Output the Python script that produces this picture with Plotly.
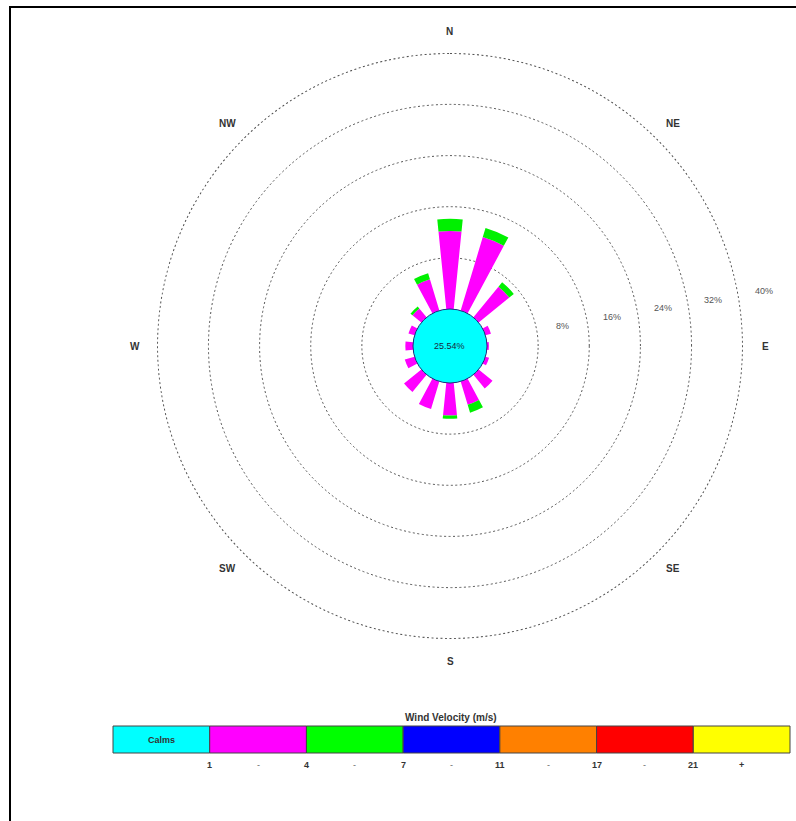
import math
import plotly.graph_objects as go

# ---- data -------------------------------------------------------------
directions = ["N", "NNE", "NE", "ENE", "E", "ESE", "SE", "SSE",
              "S", "SSW", "SW", "WSW", "W", "WNW", "NW", "NNW"]
theta_deg = [0, 22.5, 45, 67.5, 90, 112.5, 135, 157.5,
             180, 202.5, 225, 247.5, 270, 292.5, 315, 337.5]
freq_1_4 = [12.2, 12.0, 6.2, 0.9, 0.3, 0.6, 2.8, 3.8,
            5.1, 4.5, 3.5, 1.6, 1.2, 1.0, 1.8, 5.1]
freq_4_7 = [1.9, 1.5, 0.9, 0.0, 0.0, 0.0, 0.0, 1.3,
            0.5, 0.0, 0.0, 0.0, 0.0, 0.0, 0.4, 1.0]
calms_pct = 25.54
ring_ticks = [8, 16, 24, 32, 40]
compass_labels = ["N", "NE", "E", "SE", "S", "SW", "W", "NW"]
compass_angles = [0, 45, 90, 135, 180, 225, 270, 315]
legend_names = ["Calms", "", "", "", "", "", ""]
legend_colors = ["#00FFFF", "#FF00FF", "#00FF00", "#0000FF", "#FF8000", "#FF0000", "#FFFF00"]
legend_breaks = ["1", "4", "7", "11", "17", "21"]

# ---- geometry ---------------------------------------------------------
W, H = 796, 821
CX, CY = 450, 346          # rose centre in pixels
R_OUT = 293                # outer ring radius (40 %)
R_HOLE = 37                # calm circle radius
R_MAX = 40
R_AXIS = 40.05             # small headroom above the outer ring
GRID_COLOR = "#555555"
GRID_DASH = "2px,2.5px"

def px_to_paper(x, y):
    return x / W, 1 - y / H

def polar_px(r_pct, ang, extra=0.0):
    rp = R_HOLE + r_pct / R_MAX * (R_OUT - R_HOLE) + extra
    a = math.radians(ang)
    return CX + rp * math.sin(a), CY - rp * math.cos(a)

def label(x, y, text, size=9, color="#333333"):
    xp, yp = px_to_paper(x, y)
    return dict(x=xp, y=yp, xref="paper", yref="paper", text=text, showarrow=False,
                xanchor="center", yanchor="middle",
                font=dict(size=size, color=color, family="Liberation Sans"))

dom_x = [(CX - R_OUT) / W, (CX + R_OUT) / W]
dom_y = [1 - (CY + R_OUT) / H, 1 - (CY - R_OUT) / H]

fig = go.Figure()

# outermost (40 %) ring: the polar grid skips the edge, so trace it explicitly
ring_theta = list(range(0, 361))
fig.add_trace(go.Scatterpolar(r=[R_MAX] * len(ring_theta), theta=ring_theta, mode="lines",
                              line=dict(color=GRID_COLOR, width=1.4, dash=GRID_DASH),
                              hoverinfo="skip", cliponaxis=False, name="ring"))

fig.add_trace(go.Barpolar(r=freq_1_4, theta=theta_deg, width=11.5,
                          marker=dict(color="#FF00FF", line=dict(width=0)),
                          name="1 - 4"))
fig.add_trace(go.Barpolar(r=freq_4_7, theta=theta_deg, width=11.5,
                          marker=dict(color="#00F000", line=dict(width=0)),
                          name="4 - 7"))

shapes = []
annotations = []

# calm circle filling the hole
x0, y0 = px_to_paper(CX - R_HOLE, CY + R_HOLE)
x1, y1 = px_to_paper(CX + R_HOLE, CY - R_HOLE)
shapes.append(dict(type="circle", xref="paper", yref="paper", x0=x0, y0=y0, x1=x1, y1=y1,
                   fillcolor="#00FFFF", line=dict(color="#1a2a7a", width=1), layer="above"))
annotations.append(label(CX, CY, f"{calms_pct:.2f}%", size=9, color="#1a2a40"))

# ring percentage labels
for t in ring_ticks:
    x, y = polar_px(t + 4, 80)
    annotations.append(label(x, y, f"{t}%", size=9, color="#555555"))

# compass labels
for lab, ang in zip(compass_labels, compass_angles):
    x, y = polar_px(R_MAX, ang, extra=22)
    annotations.append(label(x, y, f"<b>{lab}</b>", size=10))

# velocity legend bar
LX0, LX1, LY0, LY1 = 113, 790, 726, 753
seg = (LX1 - LX0) / len(legend_colors)
for i, c in enumerate(legend_colors):
    a0, b0 = px_to_paper(LX0 + i * seg, LY1)
    a1, b1 = px_to_paper(LX0 + (i + 1) * seg, LY0)
    shapes.append(dict(type="rect", xref="paper", yref="paper", x0=a0, y0=b0, x1=a1, y1=b1,
                       fillcolor=c, line=dict(color="#444444", width=1)))
    if legend_names[i]:
        annotations.append(label(LX0 + (i + 0.5) * seg, (LY0 + LY1) / 2,
                                 f"<b>{legend_names[i]}</b>"))
annotations.append(label((LX0 + LX1) / 2 - 1, 717, "<b>Wind Velocity (m/s)</b>", size=10))
for i, lab in enumerate(legend_breaks):
    annotations.append(label(LX0 + (i + 1) * seg, 765, f"<b>{lab}</b>"))
    last = i == len(legend_breaks) - 1
    annotations.append(label(LX0 + (i + 1.5) * seg, 765, "<b>+</b>" if last else "-",
                             color="#333333" if last else "#666666"))

# outer frame
shapes.append(dict(type="rect", xref="paper", yref="paper",
                   x0=10 / W, y0=-0.2, x1=1.2, y1=1 - 7 / H,
                   line=dict(color="black", width=2), fillcolor="rgba(0,0,0,0)"))

fig.update_layout(
    width=W, height=H,
    margin=dict(l=0, r=0, t=0, b=0),
    paper_bgcolor="white",
    showlegend=False,
    shapes=shapes,
    annotations=annotations,
    polar=dict(
        domain=dict(x=dom_x, y=dom_y),
        hole=R_HOLE / R_OUT,
        bgcolor="white",
        barmode="stack",
        radialaxis=dict(range=[0, R_AXIS], tickvals=ring_ticks, showticklabels=False,
                        ticks="", showline=False, gridcolor=GRID_COLOR, griddash=GRID_DASH,
                        gridwidth=1.4),
        angularaxis=dict(rotation=90, direction="clockwise", showticklabels=False,
                         ticks="", showgrid=False, showline=False),
    ),
)

fig.write_html("out.html")
